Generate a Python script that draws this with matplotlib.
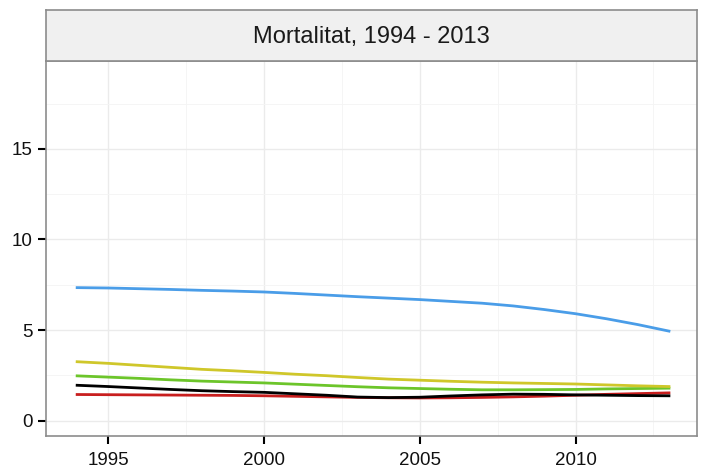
import matplotlib
matplotlib.use("Agg")
import matplotlib.pyplot as plt
from matplotlib.ticker import MultipleLocator

plt.rcParams['font.family'] = ['Liberation Sans', 'DejaVu Sans']

# Data

years = list(range(1994, 2014))

blue = [7.34, 7.32, 7.28, 7.24, 7.19, 7.15, 7.10, 7.02, 6.93, 6.84,
        6.76, 6.68, 6.58, 6.48, 6.33, 6.13, 5.90, 5.62, 5.30, 4.94]
yellow = [3.25, 3.16, 3.05, 2.94, 2.83, 2.75, 2.66, 2.56, 2.48, 2.38,
          2.29, 2.23, 2.17, 2.12, 2.08, 2.05, 2.02, 1.97, 1.92, 1.88]
green = [2.47, 2.40, 2.33, 2.25, 2.18, 2.13, 2.08, 2.01, 1.94, 1.87,
         1.81, 1.77, 1.73, 1.70, 1.70, 1.71, 1.72, 1.75, 1.77, 1.79]
black = [1.95, 1.88, 1.80, 1.72, 1.65, 1.60, 1.56, 1.48, 1.40, 1.30,
         1.27, 1.29, 1.36, 1.42, 1.46, 1.45, 1.42, 1.40, 1.38, 1.37]
red = [1.44, 1.43, 1.42, 1.41, 1.40, 1.39, 1.37, 1.34, 1.31, 1.28,
       1.26, 1.25, 1.26, 1.28, 1.31, 1.35, 1.40, 1.45, 1.49, 1.53]

title = "Mortalitat, 1994 - 2013"
xticks = [1995, 2000, 2005, 2010]
yticks = [0, 5, 10, 15]

# Figure layout

W, H = 701, 468
fig = plt.figure(figsize=(W / 100, H / 100), dpi=100)
ax = fig.add_axes([46 / W, 1 - 436 / H, 651 / W, 375 / H])
strip = fig.add_axes([46 / W, 1 - 61 / H, 651 / W, 51 / H])

border = "#8C8C8C"

ax.plot(years, red, color="#C81E1E", lw=2.0, zorder=3)
ax.plot(years, black, color="black", lw=2.0, zorder=4)
ax.plot(years, green, color="#6CC52A", lw=2.0, zorder=3)
ax.plot(years, yellow, color="#CFC72A", lw=2.0, zorder=3)
ax.plot(years, blue, color="#4A9DE8", lw=2.0, zorder=3)

ax.set_xlim(1993.0, 2013.9)
ax.set_ylim(-0.85, 19.85)
ax.set_xticks(xticks)
ax.set_yticks(yticks)
ax.xaxis.set_minor_locator(MultipleLocator(2.5))
ax.yaxis.set_minor_locator(MultipleLocator(2.5))
ax.grid(which="major", color="#EBEBEB", lw=1.0, zorder=0)
ax.grid(which="minor", color="#F4F4F4", lw=0.6, zorder=0)
ax.tick_params(which="major", length=5.5, width=1.5, color="black",
               labelsize=13.5, labelcolor="#111111", pad=4)
ax.tick_params(axis="x", which="major", pad=6)
ax.tick_params(which="minor", length=0)
for s in ax.spines.values():
    s.set_color(border)
    s.set_linewidth(1.2)

# facet strip
strip.set_facecolor("#F0F0F0")
strip.set_xticks([])
strip.set_yticks([])
for s in strip.spines.values():
    s.set_color(border)
    s.set_linewidth(1.2)
strip.text(0.5, 0.48, title, ha="center", va="center", fontsize=17,
           color="#1A1A1A", transform=strip.transAxes)

plt.savefig("out.png", dpi=100)
